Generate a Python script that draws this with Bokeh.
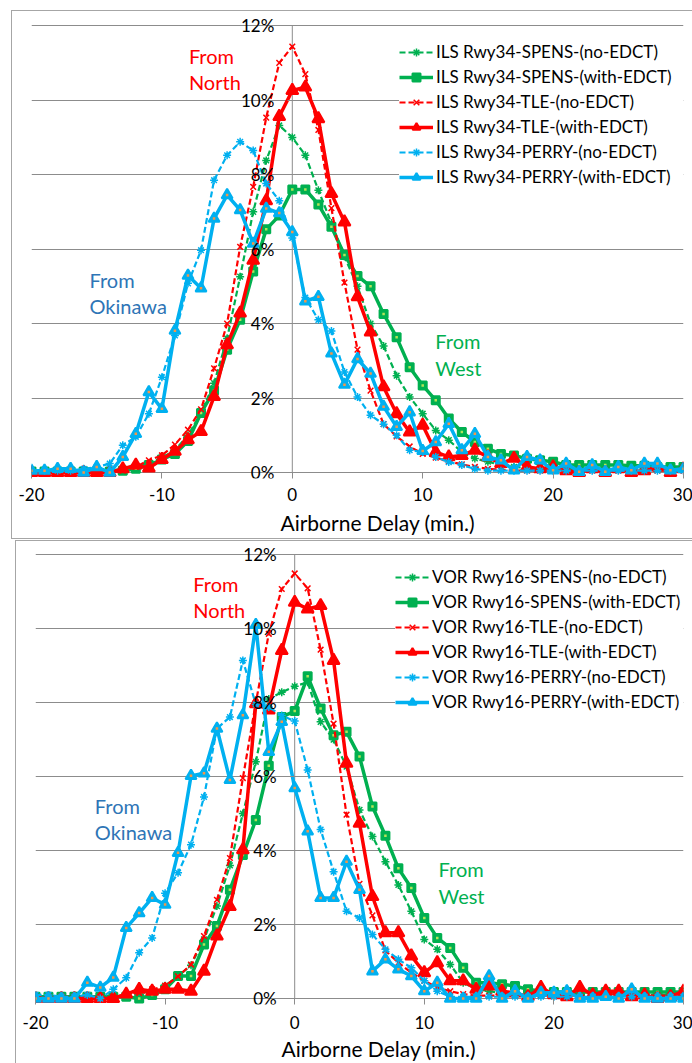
from bokeh.plotting import figure
from bokeh.layouts import column
from bokeh.models import FixedTicker, Legend, LegendItem, Label, Range1d, Title
from bokeh.embed import file_html
from bokeh.resources import INLINE

DELAY = list(range(-20, 31))
X_TICKS = [-20, -10, 0, 10, 20, 30]
X_TICK_LABELS = ["-20", "-10", "0", "10", "20", "30"]
Y_TICKS = [0, 2, 4, 6, 8, 10, 12]
Y_TICK_LABELS = ["0%", "2%", "4%", "6%", "8%", "10%", "12%"]
X_TITLE = "Airborne Delay (min.)"

# ---- ILS Rwy34 (top chart), values in % ----
ils_spens_no = [0.05, 0.05, 0.05, 0.05, 0.05, 0.05, 0.05, 0.1, 0.15, 0.25, 0.4, 0.6, 1.0, 1.6, 2.4, 3.6, 5.26,
                7.0, 8.38, 9.32, 9.0, 8.52, 7.58, 6.7, 5.8, 5.0, 4.0, 3.4, 2.6, 2.03, 1.58, 1.13, 0.87, 0.55,
                0.38, 0.29, 0.2, 0.15, 0.12, 0.1, 0.1, 0.1, 0.1, 0.1, 0.1, 0.1, 0.1, 0.1, 0.1, 0.1, 0.1]
ils_spens_with = [0.03, 0.03, 0.03, 0.03, 0.03, 0.03, 0.03, 0.05, 0.1, 0.2, 0.35, 0.5, 0.85, 1.6, 2.2, 3.3, 4.1,
                  5.4, 6.53, 6.9, 7.6, 7.6, 7.2, 6.6, 5.84, 5.28, 5.0, 4.26, 3.63, 2.83, 2.34, 1.94, 1.45, 1.09,
                  0.82, 0.64, 0.5, 0.46, 0.37, 0.33, 0.29, 0.2, 0.2, 0.2, 0.2, 0.2, 0.18, 0.18, 0.15, 0.15, 0.15]
ils_tle_no = [0.02, 0.02, 0.02, 0.02, 0.02, 0.02, 0.02, 0.05, 0.15, 0.33, 0.46, 0.75, 1.15, 1.7, 2.8, 4.0, 6.06,
              7.67, 9.53, 11.0, 11.44, 10.7, 9.2, 7.1, 5.1, 3.3, 2.2, 1.3, 0.97, 0.7, 0.5, 0.4, 0.3, 0.22,
              0.15, 0.1, 0.08, 0.05, 0.05, 0.05, 0.05, 0.05, 0.05, 0.05, 0.05, 0.05, 0.05, 0.05, 0.05, 0.05, 0.05]
ils_tle_with = [0.0, 0.0, 0.0, 0.0, 0.0, 0.0, 0.0, 0.1, 0.2, 0.12, 0.35, 0.57, 0.88, 1.1, 2.04, 3.43, 4.28,
                5.7, 7.3, 9.56, 10.26, 10.35, 9.5, 7.49, 6.73, 4.72, 3.77, 2.3, 1.58, 1.09, 1.27, 0.55, 0.42,
                0.46, 0.6, 0.42, 0.24, 0.38, 0.15, 0.1, 0.15, 0.05, 0.0, 0.1, 0.0, 0.1, 0.0, 0.05, 0.15, 0.0, 0.1]
ils_perry_no = [0.05, 0.05, 0.05, 0.05, 0.1, 0.15, 0.24, 0.73, 0.96, 1.58, 2.56, 3.68, 5.08, 5.97, 7.85, 8.52,
                8.88, 8.65, 7.76, 7.3, 6.3, 4.7, 4.1, 3.8, 2.7, 2.03, 1.54, 1.3, 1.0, 0.6, 0.55, 0.42, 0.28,
                0.2, 0.1, 0.05, 0.05, 0.05, 0.05, 0.05, 0.05, 0.05, 0.05, 0.05, 0.05, 0.05, 0.05, 0.05, 0.05,
                0.05, 0.05]
ils_perry_with = [0.05, 0.05, 0.1, 0.1, 0.0, 0.15, 0.0, 0.42, 1.04, 2.16, 1.71, 3.81, 5.29, 4.95, 6.82, 7.45,
                  7.05, 6.15, 7.09, 6.97, 6.46, 4.6, 4.72, 3.2, 2.36, 3.05, 2.66, 1.77, 1.23, 1.62, 0.58, 0.82,
                  1.31, 0.6, 1.04, 0.42, 0.33, 0.06, 0.42, 0.33, 0.06, 0.24, 0.02, 0.2, 0.02, 0.15, 0.06, 0.24,
                  0.24, 0.06, 0.1]

# ---- VOR Rwy16 (bottom chart), values in % ----
vor_spens_no = [0.05, 0.05, 0.05, 0.05, 0.05, 0.05, 0.05, 0.1, 0.15, 0.2, 0.35, 0.6, 0.9, 1.6, 2.5, 3.6, 5.0,
                6.4, 8.1, 8.28, 8.44, 8.55, 7.48, 7.0, 6.27, 5.1, 4.38, 3.7, 3.07, 2.36, 1.6, 1.33, 0.92, 0.43,
                0.25, 0.2, 0.15, 0.1, 0.1, 0.1, 0.1, 0.1, 0.1, 0.1, 0.1, 0.1, 0.1, 0.1, 0.1, 0.1, 0.1]
vor_spens_with = [0.05, 0.05, 0.05, 0.05, 0.05, 0.05, 0.05, 0.05, 0.0, 0.1, 0.25, 0.61, 0.61, 1.46, 1.96, 2.94,
                  3.88, 4.83, 6.29, 7.61, 7.77, 8.71, 7.84, 7.12, 7.21, 6.54, 5.19, 4.4, 3.52, 2.99, 2.18, 1.64,
                  1.37, 0.83, 0.43, 0.43, 0.39, 0.34, 0.25, 0.2, 0.18, 0.18, 0.18, 0.18, 0.18, 0.18, 0.18, 0.18,
                  0.18, 0.18, 0.18]
vor_tle_no = [0.05, 0.05, 0.05, 0.05, 0.05, 0.05, 0.05, 0.1, 0.15, 0.25, 0.34, 0.6, 0.92, 1.69, 2.67, 3.8, 5.96,
              8.0, 9.86, 11.07, 11.49, 11.09, 9.43, 7.43, 4.97, 3.1, 2.25, 1.3, 0.97, 0.7, 0.48, 0.3, 0.2, 0.12,
              0.08, 0.08, 0.08, 0.08, 0.08, 0.08, 0.08, 0.08, 0.08, 0.08, 0.08, 0.08, 0.08, 0.08, 0.08, 0.08, 0.08]
vor_tle_with = [0.0, 0.0, 0.0, 0.0, 0.0, 0.0, 0.0, 0.12, 0.25, 0.2, 0.25, 0.25, 0.2, 0.74, 1.69, 2.49, 4.02,
                7.97, 7.8, 9.41, 10.71, 10.53, 10.62, 9.14, 6.36, 4.74, 2.76, 1.78, 1.78, 1.15, 0.7, 0.97, 0.48,
                0.48, 0.25, 0.34, 0.2, 0.15, 0.05, 0.3, 0.1, 0.05, 0.3, 0.1, 0.2, 0.2, 0.05, 0.1, 0.0, 0.05, 0.2]
vor_perry_no = [0.1, 0.1, 0.05, 0.05, 0.1, 0.0, 0.25, 0.56, 1.24, 1.64, 2.85, 3.4, 4.16, 5.45, 7.3, 7.61, 9.14,
                7.95, 7.88, 7.65, 7.5, 6.18, 4.57, 3.43, 2.36, 2.18, 1.73, 1.33, 1.06, 0.83, 0.48, 0.2, 0.05,
                0.05, 0.05, 0.05, 0.05, 0.05, 0.05, 0.05, 0.05, 0.05, 0.05, 0.05, 0.05, 0.05, 0.05, 0.05, 0.05,
                0.05, 0.05]
vor_perry_with = [0.0, 0.0, 0.0, 0.0, 0.43, 0.3, 0.57, 1.91, 2.31, 2.72, 2.54, 3.94, 6.02, 6.09, 7.3, 5.91, 7.66,
                  10.1, 6.67, 7.48, 5.69, 4.52, 2.72, 2.72, 3.7, 2.94, 0.74, 1.06, 0.79, 0.61, 0.2, 0.43, 0.0,
                  0.0, 0.0, 0.61, 0.0, 0.2, 0.0, 0.16, 0.16, 0.2, 0.0, 0.0, 0.05, 0.0, 0.25, 0.0, 0.0, 0.0, 0.0]

SERIES_SUFFIX = ["SPENS-(no-EDCT)", "SPENS-(with-EDCT)", "TLE-(no-EDCT)", "TLE-(with-EDCT)",
                 "PERRY-(no-EDCT)", "PERRY-(with-EDCT)"]

GREEN, RED, BLUE = "#00B050", "#FF0000", "#00B0F0"
STYLES = [
    dict(color=GREEN, dash="6 3", lw=2.2, marker="asterisk", size=8, dot=None),
    dict(color=GREEN, dash="solid", lw=3.5, marker="square", size=8, dot="#B4E35A"),
    dict(color=RED, dash="6 3", lw=2.2, marker="x", size=8, dot=None),
    dict(color=RED, dash="solid", lw=3.5, marker="triangle", size=12, dot=None),
    dict(color=BLUE, dash="6 3", lw=2.2, marker="asterisk", size=8, dot=None),
    dict(color=BLUE, dash="solid", lw=3.5, marker="triangle", size=11, dot="#F79646"),
]
FONT = "Lato"
GRID = "#8C8C8C"
BOX = "#A6A6A6"


def make_chart(prefix, series, width, height, margin, borders, legend_loc, legend_pad, label_w, ann,
               title_offset, tick_standoff, title_standoff):
    left, right, top, bottom = borders
    p = figure(width=width, height=height, output_backend="svg", toolbar_location=None,
               x_range=Range1d(-20, 30), y_range=Range1d(-0.16, 12.3),
               min_border_left=left, min_border_right=right, min_border_top=top,
               min_border_bottom=bottom, background_fill_color="white", border_fill_color="white",
               margin=margin, styles={"outline": "1px solid " + BOX})
    p.outline_line_color = None
    p.xgrid.visible = False
    p.ygrid.ticker = FixedTicker(ticks=Y_TICKS)
    p.ygrid.grid_line_color = GRID
    p.ygrid.grid_line_width = 1

    # x axis along the bottom of the frame, ticks pointing up to the 0% line
    p.xaxis.ticker = FixedTicker(ticks=X_TICKS)
    p.xaxis.major_label_overrides = dict(zip(X_TICKS, X_TICK_LABELS))
    p.xaxis.axis_line_color = None
    p.xaxis.major_tick_line_color = GRID
    p.xaxis.major_tick_out = 0
    p.xaxis.major_tick_in = 6
    p.xaxis.minor_tick_line_color = None
    p.xaxis.major_label_standoff = tick_standoff
    p.xaxis.major_label_text_font = FONT
    p.xaxis.major_label_text_font_size = "17px"
    p.xaxis.major_label_text_color = "black"

    # y axis crossing at x = 0
    p.yaxis.fixed_location = 0
    p.yaxis.ticker = FixedTicker(ticks=Y_TICKS)
    p.yaxis.major_label_overrides = dict(zip(Y_TICKS, Y_TICK_LABELS))
    p.yaxis.axis_line_color = None
    p.yaxis.major_tick_line_color = GRID
    p.yaxis.major_tick_out = 5
    p.yaxis.major_tick_in = 0
    p.yaxis.minor_tick_line_color = None
    p.yaxis.major_label_standoff = 13
    p.yaxis.major_label_text_font = FONT
    p.yaxis.major_label_text_font_size = "17px"
    p.yaxis.major_label_text_color = "black"
    p.segment(x0=[0], y0=[Y_TICKS[0]], x1=[0], y1=[Y_TICKS[-1]], line_color=GRID, line_width=1)

    items = []
    for name, vals, st in zip(SERIES_SUFFIX, series, STYLES):
        ln = p.line(DELAY, vals, line_color=st["color"], line_width=st["lw"], line_dash=st["dash"])
        if st["marker"] in ("asterisk", "x"):
            sc = p.scatter(DELAY, vals, marker=st["marker"], size=st["size"], line_color=st["color"],
                           line_width=1.5)
        else:
            sc = p.scatter(DELAY, vals, marker=st["marker"], size=st["size"], line_color=st["color"],
                           fill_color=st["color"], line_width=2)
        if st["dot"]:
            p.scatter(DELAY, vals, marker="square", size=2.5, line_color=None, fill_color=st["dot"])
        items.append(LegendItem(label=prefix + name, renderers=[ln, sc]))

    leg = Legend(items=items, location=legend_loc, spacing=0, padding=legend_pad, margin=0,
                 glyph_width=34, glyph_height=20, label_height=25, label_width=label_w, label_standoff=3,
                 label_text_font=FONT, label_text_font_size="17px", label_text_color="black",
                 border_line_color=None, background_fill_color="white", background_fill_alpha=1.0)
    p.add_layout(leg, "center")

    for (txt, x, y, col) in ann:
        p.add_layout(Label(x=x, y=y, text=txt, text_color=col, text_font=FONT, text_font_size="20px",
                           text_baseline="middle", text_align="left"))

    t = Title(text=X_TITLE, align="left", offset=title_offset, standoff=title_standoff, text_font=FONT,
              text_font_size="21px", text_font_style="normal", text_color="black")
    p.add_layout(t, "below")
    return p


TXT_RED, TXT_BLUE, TXT_GREEN = "#FF0000", "#2E75B6", "#00B050"
ann_top = [("From", -7.93, 11.19, TXT_RED), ("North", -7.93, 10.50, TXT_RED),
           ("From", -15.55, 5.18, TXT_BLUE), ("Okinawa", -15.55, 4.48, TXT_BLUE),
           ("From", 10.97, 3.52, TXT_GREEN), ("West", 10.97, 2.82, TXT_GREEN)]
ann_bot = [("From", -7.82, 11.21, TXT_RED), ("North", -7.82, 10.51, TXT_RED),
           ("From", -15.42, 5.20, TXT_BLUE), ("Okinawa", -15.42, 4.50, TXT_BLUE),
           ("From", 11.1, 3.50, TXT_GREEN), ("West", 11.1, 2.78, TXT_GREEN)]

top = make_chart("ILS Rwy34-",
                 [ils_spens_no, ils_spens_with, ils_tle_no, ils_tle_with, ils_perry_no, ils_perry_with],
                 680, 527, (11, 0, 0, 12), (19, 6, 3, 60), (368, 289), 10, 250, ann_top, 249, 9, 8)
bot = make_chart("VOR Rwy16-",
                 [vor_spens_no, vor_spens_with, vor_tle_no, vor_tle_with, vor_perry_no, vor_perry_with],
                 676, 522, (3, 0, 0, 16), (19, 9, 2, 58), (360, 290), 7, 255, ann_bot, 246, 11, 5)

layout = column(top, bot, spacing=0)
open("out.html", "w").write(file_html(layout, INLINE))
